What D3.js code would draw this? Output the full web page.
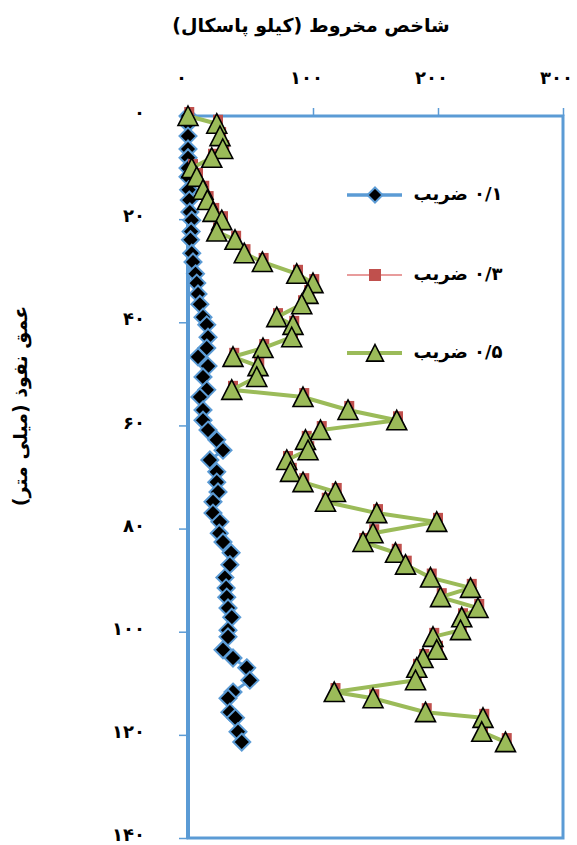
<!DOCTYPE html>
<html><head><meta charset="utf-8">
<script src="https://cdn.jsdelivr.net/npm/d3@7/dist/d3.min.js"></script>
<style>
html,body{margin:0;padding:0;background:#fff;}
svg{display:block;}
text{font-family:"DejaVu Sans",sans-serif;font-weight:bold;fill:#000;}
</style></head>
<body>
<svg id="c" width="577" height="845"></svg>
<script>
// ---- data ----
const depth = [0,1.5,3.9,6.4,8.1,10.1,11.8,14.3,16.3,18.6,20.2,22.4,24,26.6,28.3,30.6,32.4,34.5,36.5,39,40.5,42.9,45,46.7,48.5,50.6,53.1,54.5,57,59,60.9,62.8,64.8,66.7,69,71,72.9,74.8,77,78.7,80.9,82.6,84.7,87,89.5,91.5,93.3,95.4,97.2,99.7,101,103.5,105.1,107,109.4,111.7,112.9,115.6,116.7,119.4,121.4];
const series01 = [0,0,0,0,0,0,0,0.5,1,1.5,3,2.5,2,3,4,6,7,8,9.5,12,15,16,15,8,16,12,15,9.5,12,12,16,23,28,17.5,23,23,24,20,20,25.5,25,28,34.5,33.5,29.5,30.5,31,32,35,32,32,28,36,47,49.5,36,32,33.5,38,40,43];
const series03 = [1,24,26.5,29,20,4,8,13,16.5,21,28,24,38.5,46,60.5,88,101,97,92,72,85,84,61,37,57,56,36,93,129,168,107,95,97,80,83,93,119,111,152,200,149,141,167,175,195,227,203,233,220,219,197,200,189,184,183,118,149,191,237,236,255];
const series05 = [0,23,25.6,27.8,19,3,7,12,15.5,20,27,23,37.6,45,59.5,87,100,96,91,71,84,83,60,36,56,55,35,92,128,167,106,94,96,79,82,92,118,110,151,199,148,140,166,174,194,226,202,232,219,218,196,199,188,183,182,117,148,190,236,235,254];
const xTicks = [0,100,200,300];
const xTickLabels = ["۰","۱۰۰","۲۰۰","۳۰۰"];
const yTicks = [0,20,40,60,80,100,120,140];
const yTickLabels = ["۰","۲۰","۴۰","۶۰","۸۰","۱۰۰","۱۲۰","۱۴۰"];
const seriesNames = ["۰/۱ ضریب","۰/۳ ضریب","۰/۵ ضریب"];
const xTitle = "شاخص مخروط (کیلو پاسکال)";
const yTitle = "عمق نفوذ (میلی متر)";

// ---- chart ----
const svg = d3.select("#c");
const L=188,R=563,T=116,B=838;
const x = d3.scaleLinear().domain([0,300]).range([L,R]);
const y = d3.scaleLinear().domain([0,140]).range([T,B]);
const blue="#5b9bd5", green="#9bbb59", red="#c0504d", redLine="#e07b7b";

// frame
svg.append("rect").attr("x",L).attr("y",T).attr("width",R-L).attr("height",B-T)
  .attr("fill","none").attr("stroke",blue).attr("stroke-width",3);
svg.append("line").attr("x1",L).attr("x2",L).attr("y1",T-1).attr("y2",B+1).attr("stroke",blue).attr("stroke-width",4);

// axes
const xa = svg.append("g").attr("transform",`translate(0,${T})`)
  .call(d3.axisTop(x).tickValues(xTicks).tickSize(8).tickSizeOuter(0).tickFormat((d,i)=>xTickLabels[i]));
xa.select(".domain").remove();
xa.selectAll(".tick line").attr("stroke",blue).attr("stroke-width",1.5);
xa.selectAll(".tick text").attr("y",-32).attr("dx",-7).attr("font-size",18).attr("letter-spacing",2.5)
  .style("font-family","DejaVu Sans").style("font-weight","bold");

const ya = svg.append("g").attr("transform",`translate(${L},0)`)
  .call(d3.axisLeft(y).tickValues(yTicks).tickSize(9).tickSizeOuter(0).tickFormat((d,i)=>yTickLabels[i]));
ya.select(".domain").remove();
ya.selectAll(".tick line").attr("stroke",blue).attr("stroke-width",1.5);
ya.selectAll(".tick text").attr("x",-43).attr("dy","0.15em").attr("font-size",18).attr("letter-spacing",2.5)
  .style("font-family","DejaVu Sans").style("font-weight","bold");

// titles
svg.append("text").attr("x",311).attr("y",26).attr("text-anchor","middle").attr("dominant-baseline","middle")
  .attr("direction","rtl").attr("font-size",19).text(xTitle);
svg.append("text").attr("transform","translate(21,406) rotate(-90)").attr("text-anchor","middle")
  .attr("dominant-baseline","middle").attr("direction","rtl").attr("font-size",19).text(yTitle);

// marker paths
const diamond = (s)=>`M0,${-s}L${s},0L0,${s}L${-s},0Z`;
const tri = (s)=>`M0,${-s}L${s},${s*0.95}L${-s},${s*0.95}Z`;

const pts = (vals)=>vals.map((v,i)=>[x(v),y(depth[i])]);
const line = d3.line();

// series 0.1
svg.append("path").attr("d",line(pts(series01))).attr("fill","none").attr("stroke",blue).attr("stroke-width",3);
svg.append("g").selectAll("path").data(pts(series01)).join("path")
  .attr("transform",d=>`translate(${d[0]},${d[1]})`).attr("d",diamond(8.5))
  .attr("fill","#000").attr("stroke",blue).attr("stroke-width",2);
// series 0.3
svg.append("path").attr("d",line(pts(series03))).attr("fill","none").attr("stroke",redLine).attr("stroke-width",1.5);
svg.append("g").selectAll("rect").data(pts(series03)).join("rect")
  .attr("x",d=>d[0]-5).attr("y",d=>d[1]-9).attr("width",10).attr("height",10).attr("fill",red);
// series 0.5
svg.append("path").attr("d",line(pts(series05))).attr("fill","none").attr("stroke",green).attr("stroke-width",4);
svg.append("g").selectAll("path").data(pts(series05)).join("path")
  .attr("transform",d=>`translate(${d[0]},${d[1]})`).attr("d",tri(10))
  .attr("fill",green).attr("stroke","#000").attr("stroke-width",1.6).attr("stroke-linejoin","miter");

// legend
const legY=[195,275,353];
const lg = svg.append("g");
lg.append("line").attr("x1",347).attr("x2",402).attr("y1",legY[0]).attr("y2",legY[0]).attr("stroke",blue).attr("stroke-width",3.5);
lg.append("path").attr("transform",`translate(375,${legY[0]})`).attr("d",diamond(7.5)).attr("fill","#000").attr("stroke",blue).attr("stroke-width",2);
lg.append("line").attr("x1",347).attr("x2",402).attr("y1",legY[1]).attr("y2",legY[1]).attr("stroke",redLine).attr("stroke-width",1.5);
lg.append("rect").attr("x",369).attr("y",legY[1]-6).attr("width",12).attr("height",12).attr("fill",red);
lg.append("line").attr("x1",347).attr("x2",402).attr("y1",legY[2]).attr("y2",legY[2]).attr("stroke",green).attr("stroke-width",4);
lg.append("path").attr("transform",`translate(375,${legY[2]})`).attr("d",tri(8.5)).attr("fill",green).attr("stroke","#000").attr("stroke-width",1.6);
seriesNames.forEach((n,i)=>{
  lg.append("text").attr("x",458).attr("y",legY[i]).attr("text-anchor","middle").attr("dominant-baseline","middle")
    .attr("direction","rtl").attr("font-size",18).text(n);
});
</script>
</body></html>
